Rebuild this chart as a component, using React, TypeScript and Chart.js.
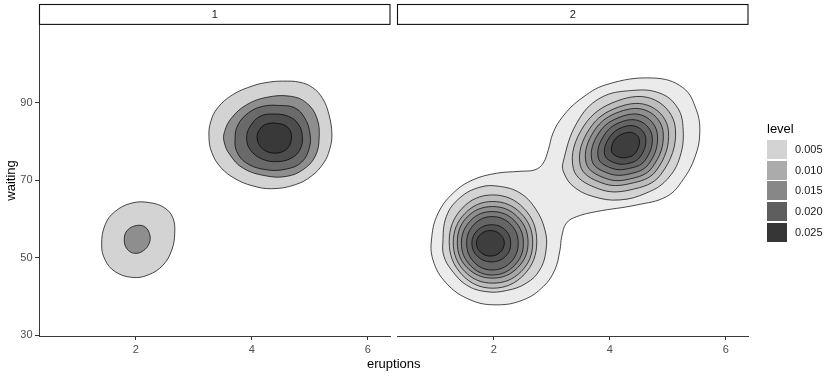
import React, { useEffect, useRef } from 'react';
import { Chart, registerables } from 'chart.js';

Chart.register(...registerables);

type Pt = [number, number];

const FONT = '"Liberation Sans", Arial, Helvetica, sans-serif';

// ---------- axes / labels ----------
const panelLabels = ['1', '2'];
const xTickValues = [2, 4, 6];
const yTickValues = [30, 50, 70, 90];
const xMin = 0.33;
const xMax = 6.39;
const yMin = 29.75;
const yMax = 110.1;
const xTitle = 'eruptions';
const yTitle = 'waiting';
const legendTitle = 'level';
const legendLevels = [0.005, 0.01, 0.015, 0.02, 0.025];

// ---------- panel 1 contours ----------
const p1UpperL005: Pt[] = [[4.53,95.6],[4.83,95.3],[5.05,93.9],[5.22,91.1],[5.33,86.9],[5.38,81.7],[5.34,77.9],[5.24,74.5],[5.03,71.1],[4.74,68.8],[4.34,67.8],[4.0,68.6],[3.71,70.4],[3.47,73.2],[3.31,77.1],[3.26,81.2],[3.29,85.1],[3.41,88.7],[3.67,92.1],[4.02,94.4],[4.28,95.3]];
const p1UpperL010: Pt[] = [[3.53,82.6],[3.52,80.0],[3.62,76.6],[3.85,73.1],[4.25,71.1],[4.60,71.0],[4.88,72.7],[5.09,76.1],[5.16,80.9],[5.12,86.1],[4.94,90.0],[4.66,91.7],[4.25,91.4],[3.91,89.5],[3.65,86.1]];
const p1UpperL015: Pt[] = [[3.71,80.9],[3.74,77.4],[3.91,74.4],[4.25,72.7],[4.60,72.9],[4.86,74.7],[4.99,78.3],[5.00,82.2],[4.91,86.1],[4.74,88.7],[4.48,89.3],[4.19,89.1],[3.94,87.4],[3.76,84.3]];
const p1UpperL020: Pt[] = [[3.91,80.9],[3.97,77.9],[4.17,75.5],[4.43,74.8],[4.68,75.7],[4.83,77.9],[4.87,81.3],[4.80,84.5],[4.63,86.5],[4.37,87.1],[4.14,86.5],[3.97,83.9]];
const p1UpperL025: Pt[] = [[4.09,80.9],[4.17,78.3],[4.37,77.0],[4.59,77.9],[4.68,80.5],[4.64,83.3],[4.48,84.6],[4.25,84.5],[4.13,83.0]];
const p1LowerL005: Pt[] = [[1.41,53.3],[1.47,58.5],[1.64,61.9],[1.93,64.1],[2.24,64.2],[2.50,62.8],[2.64,60.2],[2.67,56.3],[2.62,52.0],[2.47,48.1],[2.21,45.5],[1.93,44.9],[1.64,46.4],[1.47,49.4]];
const p1LowerL010: Pt[] = [[1.80,54.6],[1.85,57.0],[2.01,58.3],[2.16,57.9],[2.24,55.9],[2.23,53.7],[2.13,51.8],[1.98,51.1],[1.85,52.2]];

// ---------- panel 2 contours ----------
const p2OuterL002: Pt[] = [[4.75,96.4],[5.26,93.9],[5.49,88.2],[5.55,82.2],[5.47,76.1],[5.26,70.1],[4.98,65.8],[4.46,63.6],[3.77,61.9],[3.43,60.6],[3.25,58.9],[3.17,55.4],[3.14,52.0],[3.05,46.8],[2.85,42.5],[2.51,39.1],[2.05,37.8],[1.59,39.1],[1.18,43.4],[0.95,49.4],[0.93,55.4],[1.04,61.5],[1.30,66.7],[1.64,70.1],[2.05,71.8],[2.45,72.3],[2.71,72.7],[2.85,74.4],[2.94,77.9],[3.02,82.2],[3.19,86.5],[3.48,90.8],[3.94,94.7]];

const p2LowerL004: Pt[] = [[1.12,53.7],[1.18,60.6],[1.41,65.4],[1.76,68.2],[2.10,68.4],[2.45,66.7],[2.71,62.8],[2.88,57.2],[2.90,52.0],[2.79,46.8],[2.56,43.4],[2.22,41.5],[1.87,41.2],[1.53,42.9],[1.27,46.8],[1.14,50.3]];
const p2LowerL006: Pt[] = [[2.74,54.1],[2.52,62.7],[1.98,66.2],[1.45,62.7],[1.23,54.1],[1.45,45.6],[1.98,42.1],[2.52,45.6]];
const p2LowerL008: Pt[] = [[2.67,53.9],[2.47,61.4],[1.98,64.5],[1.50,61.4],[1.30,53.9],[1.50,46.4],[1.98,43.4],[2.47,46.4]];
const p2LowerL010: Pt[] = [[2.59,53.9],[2.41,60.5],[1.98,63.2],[1.54,60.5],[1.37,53.9],[1.54,47.4],[1.98,44.7],[2.41,47.4]];
const p2LowerL012: Pt[] = [[2.51,53.7],[2.35,59.6],[1.97,61.9],[1.60,59.6],[1.44,53.7],[1.60,47.9],[1.97,45.5],[2.35,47.9]];
const p2LowerL014: Pt[] = [[2.42,53.7],[2.29,58.6],[1.97,60.6],[1.66,58.6],[1.53,53.7],[1.66,48.8],[1.97,46.8],[2.29,48.8]];
const p2LowerL016: Pt[] = [[2.29,53.7],[2.20,57.1],[1.96,58.5],[1.72,57.1],[1.62,53.7],[1.72,50.3],[1.96,48.9],[2.20,50.3]];
const p2LowerL018: Pt[] = [[2.18,53.7],[2.11,56.0],[1.94,57.0],[1.77,56.0],[1.70,53.7],[1.77,51.4],[1.94,50.4],[2.11,51.4]];

const p2UpperL004: Pt[] = [[3.19,74.4],[3.43,84.8],[3.83,91.2],[4.40,93.2],[4.86,92.5],[5.15,89.1],[5.26,83.9],[5.21,76.1],[4.98,70.1],[4.63,66.7],[4.17,64.9],[3.71,65.8],[3.37,68.4],[3.21,71.8]];
const p2UpperL006: Pt[] = [[5.13,83.3],[4.78,90.7],[4.13,90.5],[3.55,84.0],[3.37,73.0],[3.80,67.8],[4.35,67.5],[4.88,71.5]];
const p2UpperL008: Pt[] = [[5.01,82.7],[4.71,89.0],[4.15,88.9],[3.65,83.3],[3.49,73.8],[3.86,69.3],[4.34,69.1],[4.80,72.5]];
const p2UpperL010: Pt[] = [[4.92,82.2],[4.66,87.8],[4.17,87.7],[3.73,82.8],[3.59,74.5],[3.92,70.5],[4.34,70.3],[4.73,73.3]];
const p2UpperL012: Pt[] = [[4.82,81.7],[4.60,86.5],[4.19,86.4],[3.81,82.2],[3.69,75.1],[3.97,71.8],[4.33,71.6],[4.67,74.2]];
const p2UpperL014: Pt[] = [[4.73,81.2],[4.54,85.1],[4.20,85.1],[3.90,81.6],[3.80,75.8],[4.03,73.1],[4.32,73.0],[4.60,75.0]];
const p2UpperL016: Pt[] = [[4.62,80.7],[4.48,83.7],[4.22,83.7],[3.99,81.0],[3.91,76.6],[4.08,74.5],[4.31,74.3],[4.52,76.0]];
const p2UpperL018: Pt[] = [[4.51,80.2],[4.42,82.1],[4.24,82.1],[4.08,80.4],[4.03,77.4],[4.15,76.0],[4.30,75.9],[4.44,77.0]];

type Contour = { panel: number; level: number; pts: Pt[] };
const contours: Contour[] = [
  { panel: 0, level: 0.005, pts: p1UpperL005 },
  { panel: 0, level: 0.010, pts: p1UpperL010 },
  { panel: 0, level: 0.015, pts: p1UpperL015 },
  { panel: 0, level: 0.020, pts: p1UpperL020 },
  { panel: 0, level: 0.025, pts: p1UpperL025 },
  { panel: 0, level: 0.005, pts: p1LowerL005 },
  { panel: 0, level: 0.010, pts: p1LowerL010 },
  { panel: 1, level: 0.002, pts: p2OuterL002 },
  { panel: 1, level: 0.004, pts: p2LowerL004 },
  { panel: 1, level: 0.006, pts: p2LowerL006 },
  { panel: 1, level: 0.008, pts: p2LowerL008 },
  { panel: 1, level: 0.010, pts: p2LowerL010 },
  { panel: 1, level: 0.012, pts: p2LowerL012 },
  { panel: 1, level: 0.014, pts: p2LowerL014 },
  { panel: 1, level: 0.016, pts: p2LowerL016 },
  { panel: 1, level: 0.018, pts: p2LowerL018 },
  { panel: 1, level: 0.004, pts: p2UpperL004 },
  { panel: 1, level: 0.006, pts: p2UpperL006 },
  { panel: 1, level: 0.008, pts: p2UpperL008 },
  { panel: 1, level: 0.010, pts: p2UpperL010 },
  { panel: 1, level: 0.012, pts: p2UpperL012 },
  { panel: 1, level: 0.014, pts: p2UpperL014 },
  { panel: 1, level: 0.016, pts: p2UpperL016 },
  { panel: 1, level: 0.018, pts: p2UpperL018 },
];

// ---------- styles ----------
const panelScaleIds = ['x1', 'x2'];
const panelFillLevels = [
  [0.005, 0.010, 0.015, 0.020, 0.025],
  [0.002, 0.004, 0.006, 0.008, 0.010, 0.012, 0.014, 0.016, 0.018],
];
const panelFillColors = [
  ['#d3d3d3', '#8e8e8e', '#6a6a6a', '#4d4d4d', '#393939'],
  ['#ebebeb', '#d3d3d3', '#bdbdbd', '#a6a6a6', '#8f8f8f', '#7a7a7a', '#656565', '#515151', '#3e3e3e'],
];
const legendColors = ['#d3d3d3', '#ababab', '#878787', '#5e5e5e', '#363636'];

function fillFor(panel: number, level: number): string {
  const lv = panelFillLevels[panel];
  let best = 0;
  for (let i = 0; i < lv.length; i++) {
    if (Math.abs(lv[i] - level) < Math.abs(lv[best] - level)) best = i;
  }
  return panelFillColors[panel][best];
}

const closedLoopPlugin = {
  id: 'closedLoop',
  afterDatasetsUpdate(chart: any) {
    chart.data.datasets.forEach((_d: any, i: number) => {
      const line = chart.getDatasetMeta(i).dataset;
      if (line) {
        line._loop = true;
        line._fullLoop = true;
        line._pointsUpdated = false;
        line._segments = undefined;
        line._path = undefined;
      }
    });
  },
};

const facetPlugin = {
  id: 'facetStrips',
  afterDraw(chart: any) {
    const ctx = chart.ctx;
    const area = chart.chartArea;
    const top = 4.5;
    const bottom = area.top - 0.6;
    panelScaleIds.forEach((id, i) => {
      const s = chart.scales[id];
      ctx.save();
      ctx.fillStyle = '#ffffff';
      ctx.fillRect(s.left, top, s.right - s.left, bottom - top);
      ctx.strokeStyle = '#111111';
      ctx.lineWidth = 1.1;
      ctx.strokeRect(s.left + 0.5, top, s.right - s.left - 1, bottom - top);
      ctx.fillStyle = '#1a1a1a';
      ctx.font = `11px ${FONT}`;
      ctx.textAlign = 'center';
      ctx.textBaseline = 'middle';
      ctx.fillText(panelLabels[i], (s.left + s.right) / 2, (top + bottom) / 2 + 0.5);
      ctx.restore();
    });
    const a = chart.scales[panelScaleIds[0]];
    const b = chart.scales[panelScaleIds[1]];
    ctx.save();
    ctx.fillStyle = '#000000';
    ctx.font = `13px ${FONT}`;
    ctx.textAlign = 'center';
    ctx.textBaseline = 'alphabetic';
    ctx.fillText(xTitle, (a.left + b.right) / 2, 368.3);
    ctx.restore();
  },
};

function xScale(weight: number) {
  return {
    type: 'linear',
    position: 'bottom',
    stack: 'facets',
    stackWeight: weight,
    min: xMin,
    max: xMax,
    afterBuildTicks: (s: any) => {
      s.ticks = xTickValues.map((v) => ({ value: v }));
    },
    afterFit: (s: any) => {
      s.height = 41;
    },
    ticks: {
      font: { family: FONT, size: 11 },
      color: '#4d4d4d',
      padding: 3,
      maxRotation: 0,
      autoSkip: false,
    },
    grid: {
      display: true,
      drawOnChartArea: false,
      drawTicks: true,
      tickLength: 4,
      tickColor: '#333333',
      tickWidth: 1,
    },
    border: { display: true, color: '#3a3a3a', width: 1 },
  };
}

export default function App() {
  const canvasRef = useRef<HTMLCanvasElement>(null);

  useEffect(() => {
    if (!canvasRef.current) return;
    Chart.defaults.font.family = FONT;
    const datasets = contours.map((c) => ({
      data: c.pts.map(([x, y]) => ({ x, y })),
      xAxisID: panelScaleIds[c.panel],
      yAxisID: 'y',
      backgroundColor: fillFor(c.panel, c.level),
      borderColor: '#000000',
      borderWidth: 0.7,
      pointRadius: 0,
      pointHoverRadius: 0,
      fill: 'shape',
      tension: 0.4,
      order: -c.level,
    }));

    const chart = new Chart(canvasRef.current, {
      type: 'line',
      data: { datasets } as any,
      options: {
        responsive: false,
        animation: false,
        events: [],
        layout: { padding: { left: 0, right: 84.5, top: 25, bottom: 0 } },
        plugins: {
          legend: { display: false },
          tooltip: { enabled: false },
        },
        scales: {
          x1: xScale(351.5),
          xGap: {
            type: 'linear',
            position: 'bottom',
            stack: 'facets',
            stackWeight: 6.5,
            min: 0,
            max: 1,
            afterFit: (s: any) => {
              s.height = 41;
            },
            ticks: { display: false },
            grid: { display: false },
            border: { display: false },
          },
          x2: xScale(351.5),
          y: {
            type: 'linear',
            position: 'left',
            min: yMin,
            max: yMax,
            afterBuildTicks: (s: any) => {
              s.ticks = yTickValues.map((v) => ({ value: v }));
            },
            afterFit: (s: any) => {
              s.width = 39;
            },
            ticks: {
              font: { family: FONT, size: 11 },
              color: '#4d4d4d',
              padding: 2.5,
            },
            grid: {
              display: true,
              drawOnChartArea: false,
              drawTicks: true,
              tickLength: 4,
              tickColor: '#333333',
              tickWidth: 1,
            },
            border: { display: true, color: '#3a3a3a', width: 1 },
            title: {
              display: true,
              text: yTitle,
              color: '#000000',
              font: { family: FONT, size: 13 },
              padding: { top: 4, bottom: 0 },
            },
          },
        } as any,
      },
      plugins: [closedLoopPlugin, facetPlugin],
    } as any);

    return () => chart.destroy();
  }, []);

  const rowH = 20.7;
  const legendTop = 139.2;

  return (
    <div style={{ position: 'absolute', left: 0, top: 0, width: 833, height: 377, background: '#ffffff', fontFamily: FONT }}>
      <canvas ref={canvasRef} width={833} height={377} style={{ display: 'block', width: 833, height: 377 }} />
      <div style={{ position: 'absolute', left: 767, top: 120.7, fontSize: 13, lineHeight: '15px', color: '#000000' }}>
        {legendTitle}
      </div>
      {legendLevels.map((lv, i) => (
        <div key={i} style={{ position: 'absolute', left: 767, top: legendTop + i * rowH, height: rowH, display: 'flex', alignItems: 'center' }}>
          <div style={{ width: 20, height: 19, background: legendColors[i] }} />
          <span style={{ marginLeft: 8, fontSize: 11, lineHeight: '13px', color: '#1a1a1a' }}>{lv.toFixed(3)}</span>
        </div>
      ))}
    </div>
  );
}
